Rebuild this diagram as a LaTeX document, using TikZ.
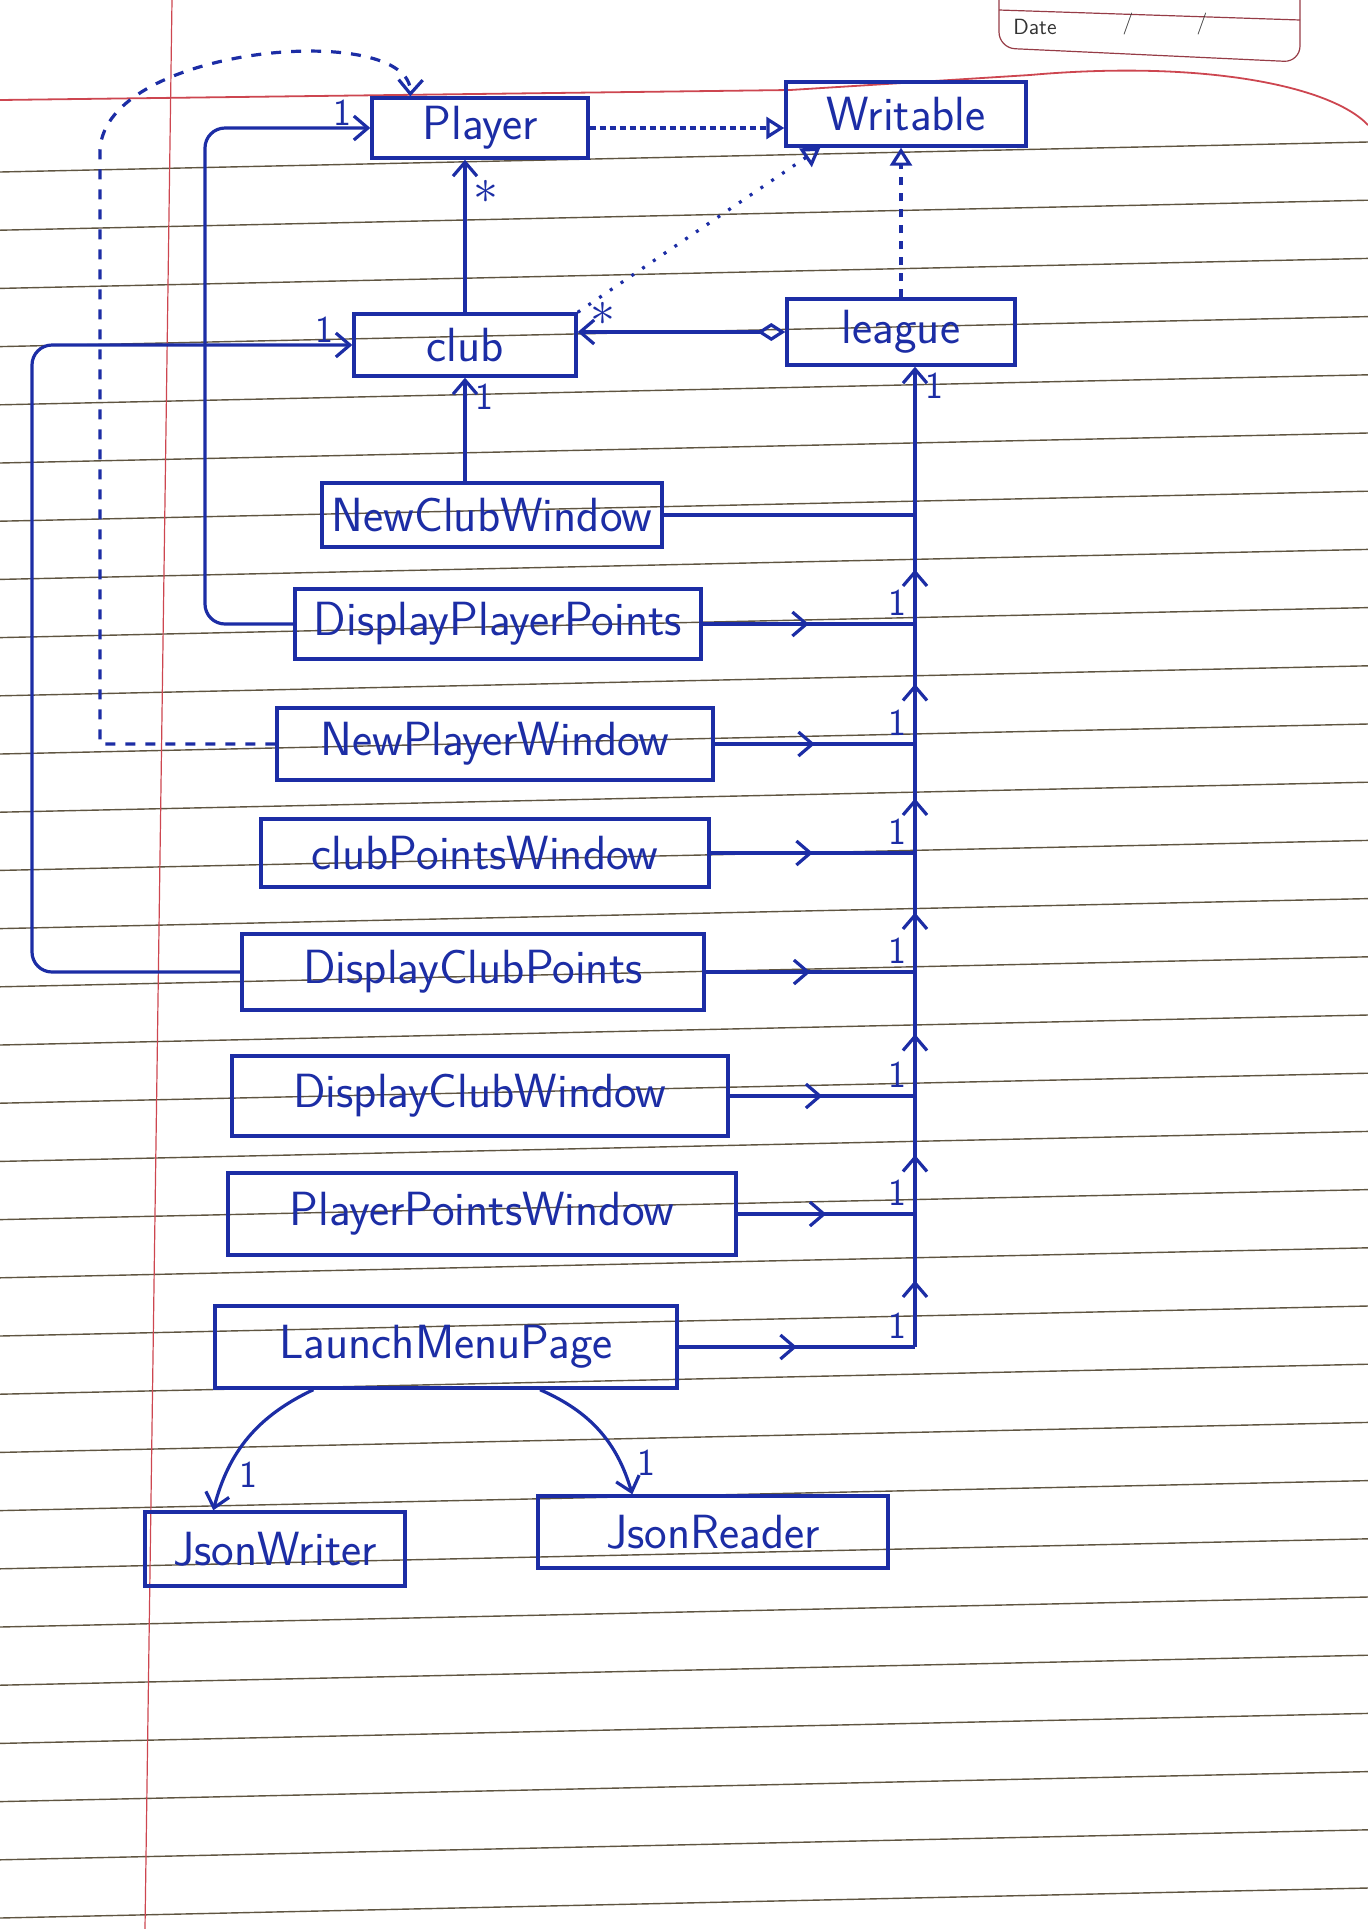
\documentclass[tikz,border=0pt]{standalone}
\usetikzlibrary{positioning,arrows.meta,decorations.markings}

\definecolor{ink}{RGB}{28,45,165}
\definecolor{ruling}{RGB}{95,85,65}
\definecolor{margin}{RGB}{205,70,80}
\definecolor{print}{RGB}{150,60,70}

\tikzset{
  cls/.style 2 args={draw=ink, line width=1.7pt, text=ink, inner sep=2pt,
    minimum width=#1pt, minimum height=#2pt,
    font=\sffamily\fontsize{24}{28}\selectfont},
  wire/.style={draw=ink, line width=1.6pt},
  assoc/.style={-{Straight Barb[length=7pt,width=12pt]}},
  real/.style={-{Triangle[open,length=9pt,width=11pt]}},
  midtip/.style={postaction={decorate}, decoration={markings,
    mark=at position #1 with {\arrow{Straight Barb[length=7pt,width=12pt]}}}},
  midtip/.default=0.5,
  mult/.style={text=ink, inner sep=1pt, font=\sffamily\fontsize{19}{22}\selectfont},
  many/.style={mult, inner sep=0pt, font=\fontsize{30}{30}\selectfont},
}

\begin{document}
\begin{tikzpicture}[x=0.5pt, y=-0.5pt, semithick]
  \useasboundingbox (0,0) rectangle (1368,1929);

  \foreach \k in {0,...,30}
    \draw[ruling, line width=0.7pt] (0,172+58.2*\k) -- (1368,142+58.2*\k);
  \draw[margin, line width=0.6pt] (172,0) -- (145,1929);
  \draw[margin, line width=0.9pt] (0,100) -- (790,90) -- (1030,75)
    .. controls (1200,60) and (1330,85) .. (1368,125);
  \draw[print, line width=0.6pt, rounded corners=8pt] (999,0) -- (999,48) -- (1300,62) -- (1300,0);
  \draw[print, line width=0.6pt] (999,10) -- (1300,20);
  \node[text=black!80, font=\sffamily\fontsize{11}{13}\selectfont] (date) at (1035,27) {Date};
  \node[text=black!80, font=\sffamily\fontsize{11}{13}\selectfont] (slasha) at (1128,24) {/};
  \node[text=black!80, font=\sffamily\fontsize{11}{13}\selectfont] (slashb) at (1202,24) {/};

  \node[cls={108}{30}] (player) at (480,128) {Player};
  \node[cls={120}{32}] (writable) at (906,114) {Writable};
  \node[cls={111}{31}] (club) at (465,345) {club};
  \node[cls={114}{33}] (league) at (901,332) {league};
  \node[cls={170}{32}] (ncw) at (492,515) {NewClubWindow};
  \node[cls={203}{35}] (dpp) at (498,624) {DisplayPlayerPoints};
  \node[cls={218}{36}] (npw) at (495,744) {NewPlayerWindow};
  \node[cls={224}{34}] (cpw) at (485,853) {clubPointsWindow};
  \node[cls={231}{38}] (dcp) at (473,972) {DisplayClubPoints};
  \node[cls={248}{40}] (dcw) at (480,1096) {DisplayClubWindow};
  \node[cls={254}{41}] (ppw) at (482,1214) {PlayerPointsWindow};
  \node[cls={231}{41}] (lmp) at (446,1347) {LaunchMenuPage};
  \node[cls={130}{37}] (jw) at (275,1549) {JsonWriter};
  \node[cls={175}{36}] (jr) at (713,1532) {JsonReader};

  \coordinate (bus) at (915,0);
  \coordinate (pleft) at (205,0);
  \coordinate (cleft) at (32,0);
  \coordinate (dtop) at (100,150);

  \draw[wire, real, dash pattern=on 3pt off 2pt] (player.east) -- (player.east -| writable.west);
  \draw[wire, real, dash pattern=on 1.5pt off 5pt] (club.north east) -- ([xshift=18pt]writable.south west);
  \draw[wire, real, dash pattern=on 4pt off 4pt] (league.north) -- (league.north |- writable.south);
  \draw[wire, assoc] (club.north) -- (club.north |- player.south);
  \draw[wire, {Diamond[open,length=14pt,width=9pt]}-{Straight Barb[length=7pt,width=12pt]}]
    (league.west) -- (league.west -| club.east);
  \draw[wire, assoc] (ncw.north -| club.south) -- (club.south);

  \draw[wire, assoc, rounded corners=10pt] (dpp.west) -- (dpp.west -| pleft) |- (player.west);
  \draw[wire, assoc, rounded corners=10pt] (dcp.west) -- (dcp.west -| cleft) |- (club.west);
  \draw[wire, assoc, dash pattern=on 5pt off 5pt] (npw.west) -| (dtop)
    .. controls (105,45) and (412,20) .. ([xshift=20pt]player.north west);

  \foreach \n in {dpp,npw,cpw,dcp,dcw,ppw,lmp} {
    \draw[wire, midtip] (\n.east) -- (\n.east -| bus);
    \node[mult, above left=3pt and 3pt] at (\n.east -| bus) {1};
  }
  \draw[wire] (ncw.east) -- (ncw.east -| bus);
  \foreach \a/\b in {lmp/ppw,ppw/dcw,dcw/dcp,dcp/cpw,cpw/npw,npw/dpp,dpp/ncw}
    \draw[wire, midtip] (\a.east -| bus) -- (\b.east -| bus);
  \draw[wire, assoc] (ncw.east -| bus) -- (league.south -| bus);

  \draw[wire, assoc] ([xshift=50pt]lmp.south west) to[bend right=25]
    node[mult, pos=0.78, right=5pt] {1} ([xshift=35pt]jw.north west);
  \draw[wire, assoc] ([xshift=47pt]lmp.south) to[bend left=25]
    node[mult, pos=0.78, right=7pt] {1} ([xshift=48pt]jr.north west);

  \node[mult, above left=0pt and 8pt] at (player.west) {1};
  \node[mult, above left=0pt and 8pt] at (club.west) {1};
  \node[many, below right=10pt and 4pt] at (club.north |- player.south) {$\ast$};
  \node[many, above right=3pt and 6pt] at (league.west -| club.east) {$\ast$};
  \node[mult, below right=2pt and 4pt] at (club.south) {1};
  \node[mult, below right=2pt and 4pt] at (league.south -| bus) {1};

\end{tikzpicture}
\end{document}
